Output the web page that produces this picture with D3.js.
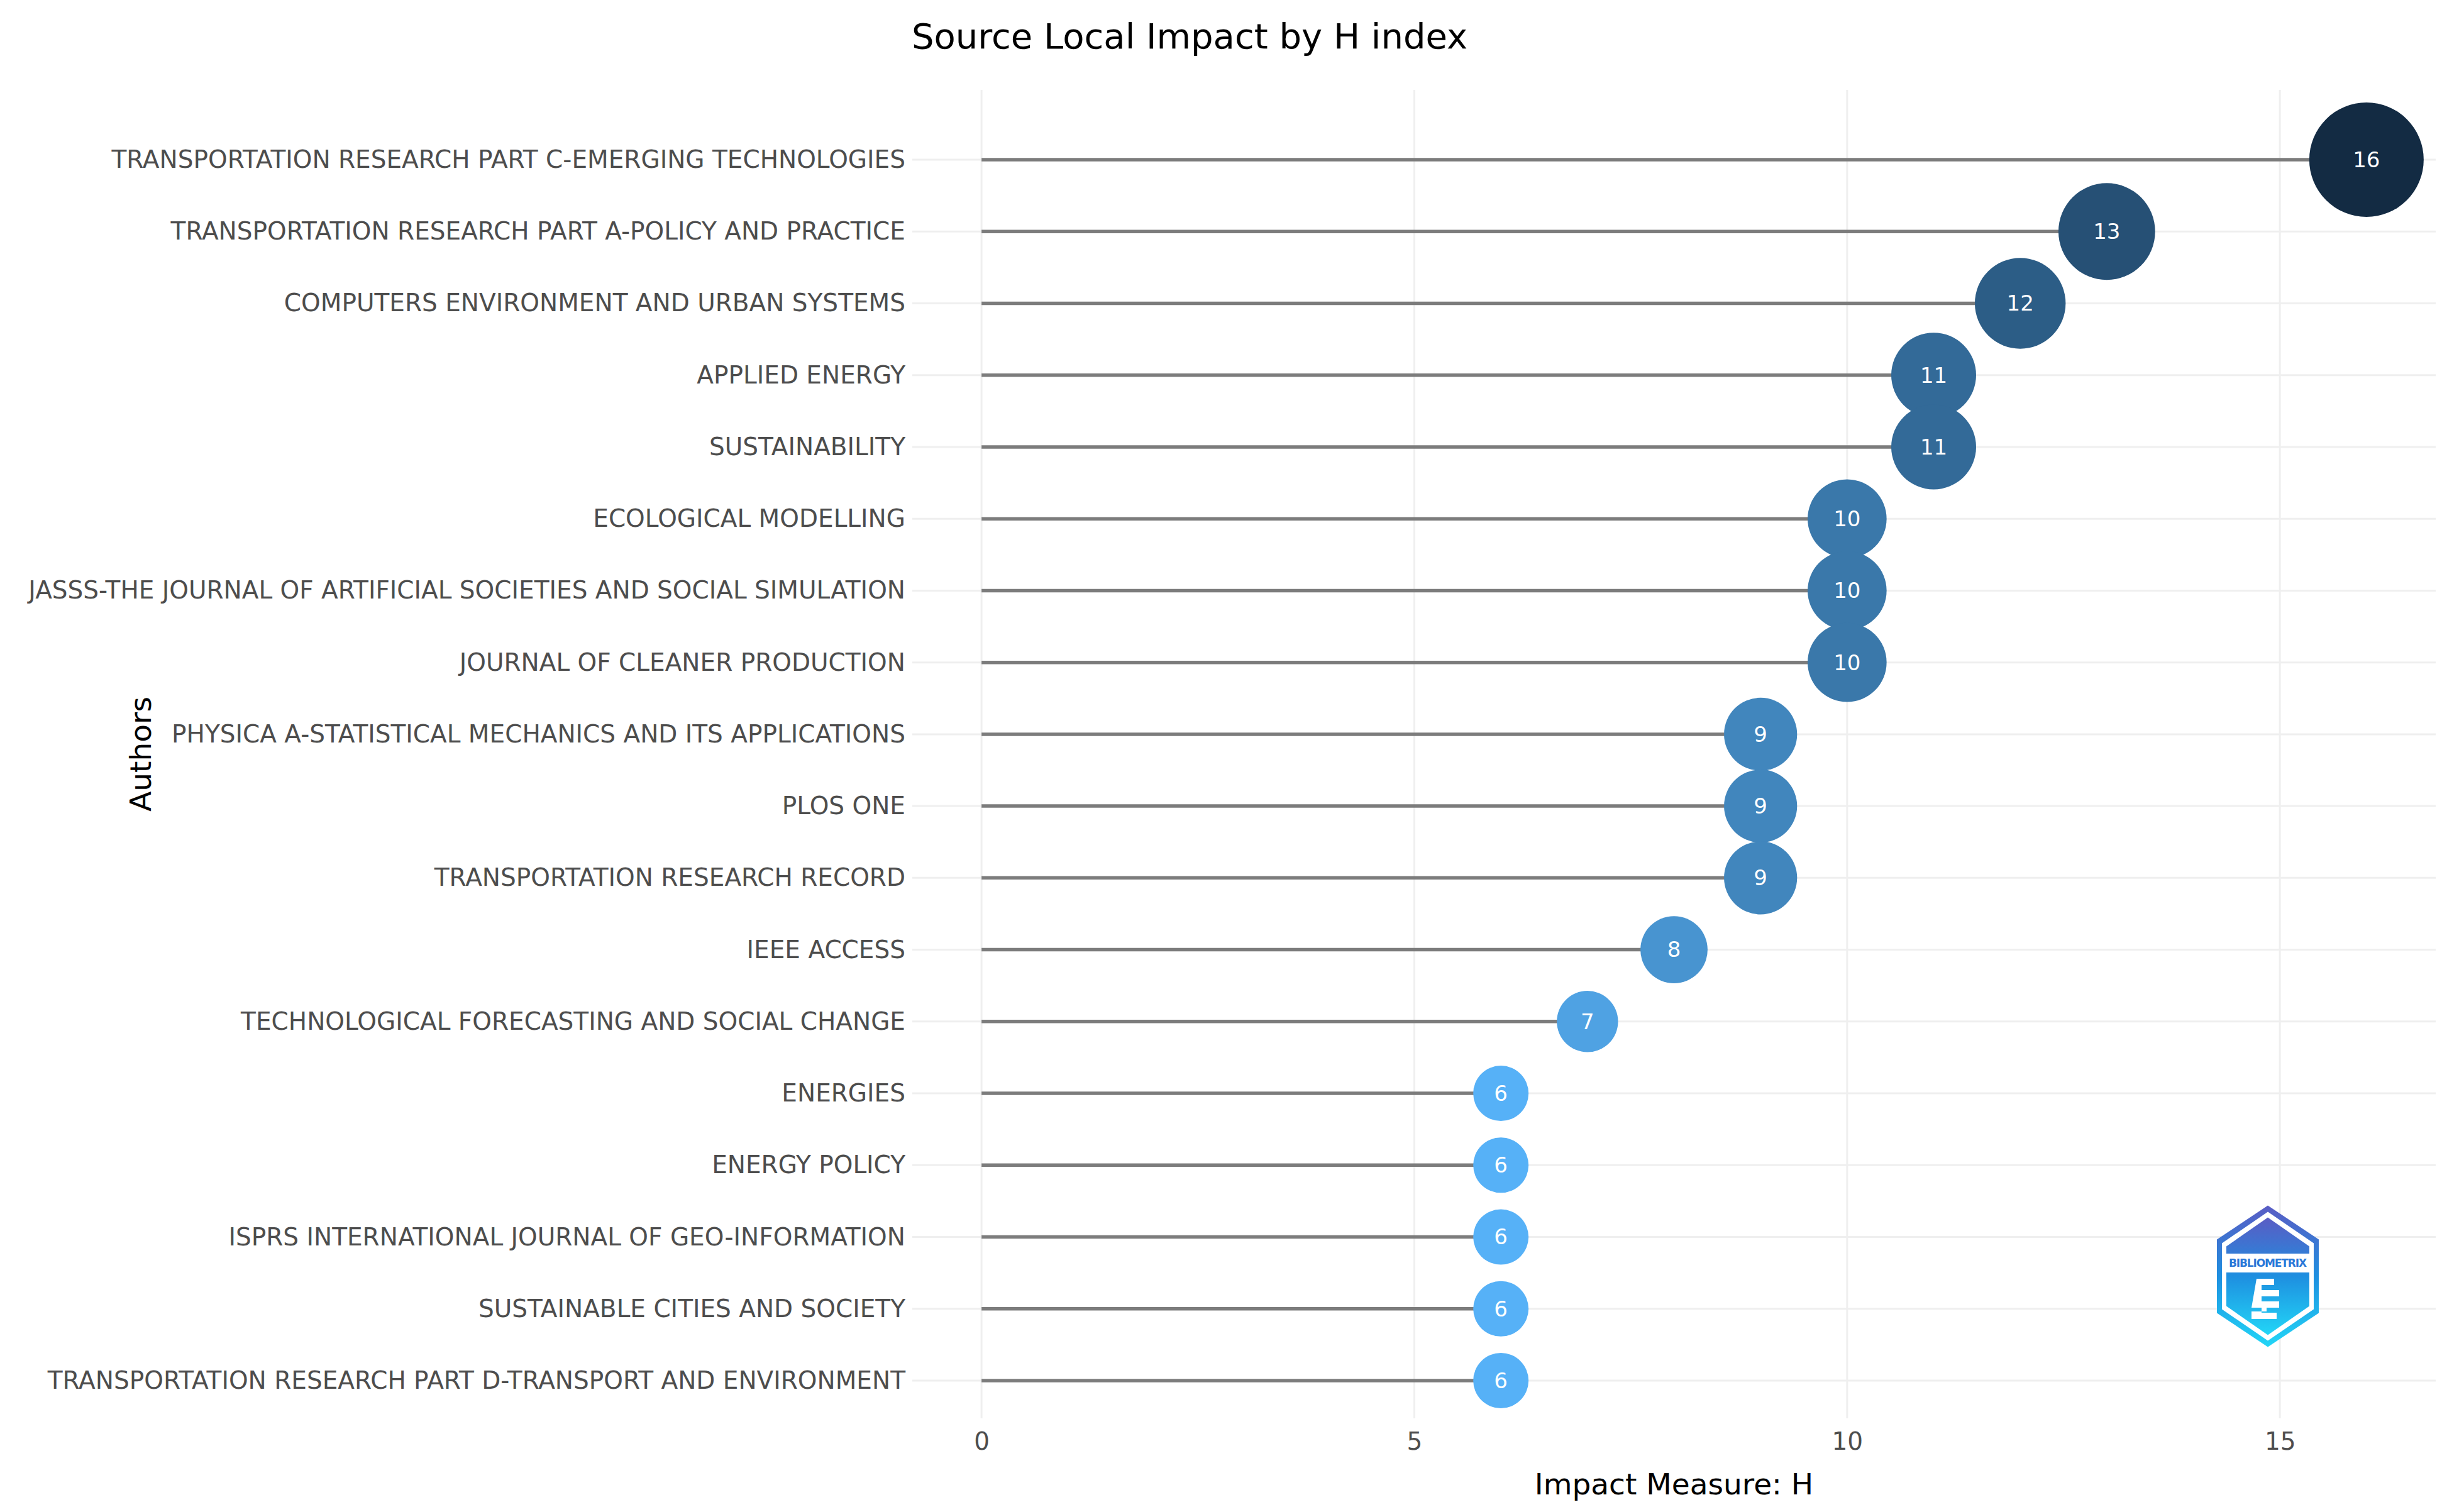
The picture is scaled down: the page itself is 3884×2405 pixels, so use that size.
<!DOCTYPE html>
<html>
<head>
<meta charset="utf-8">
<script src="https://cdn.jsdelivr.net/npm/d3@7"></script>
<style>
  body { margin: 0; background: #fff; }
  svg { display: block; font-family: "DejaVu Sans", Verdana, sans-serif; }
</style>
</head>
<body>
<svg width="3884" height="2405"></svg>
<script>
// sources, top to bottom, with their local H index
const sources = [
    "TRANSPORTATION RESEARCH PART C-EMERGING TECHNOLOGIES",
    "TRANSPORTATION RESEARCH PART A-POLICY AND PRACTICE",
    "COMPUTERS ENVIRONMENT AND URBAN SYSTEMS",
    "APPLIED ENERGY",
    "SUSTAINABILITY",
    "ECOLOGICAL MODELLING",
    "JASSS-THE JOURNAL OF ARTIFICIAL SOCIETIES AND SOCIAL SIMULATION",
    "JOURNAL OF CLEANER PRODUCTION",
    "PHYSICA A-STATISTICAL MECHANICS AND ITS APPLICATIONS",
    "PLOS ONE",
    "TRANSPORTATION RESEARCH RECORD",
    "IEEE ACCESS",
    "TECHNOLOGICAL FORECASTING AND SOCIAL CHANGE",
    "ENERGIES",
    "ENERGY POLICY",
    "ISPRS INTERNATIONAL JOURNAL OF GEO-INFORMATION",
    "SUSTAINABLE CITIES AND SOCIETY",
    "TRANSPORTATION RESEARCH PART D-TRANSPORT AND ENVIRONMENT"
];
const hIndex = [16, 13, 12, 11, 11, 10, 10, 10, 9, 9, 9, 8, 7, 6, 6, 6, 6, 6];
const xTicks = [0, 5, 10, 15];

const data = sources.map((s, i) => ({ source: s, h: hIndex[i] }));

const svg = d3.select("svg"),
    width = +svg.attr("width"),
    height = +svg.attr("height");

const plot = { left: 1451, right: 3874, top: 143, bottom: 2256 };

const x = d3.scaleLinear()
    .domain([-0.8, 16.8])
    .range([plot.left, plot.right]);

const y = d3.scalePoint()
    .domain(sources)
    .range([254, 2196]);

const hMin = d3.min(hIndex), hMax = d3.max(hIndex);

const color = d3.scaleLinear()
    .domain([hMin, hMax])
    .range(["#56B1F7", "#132B43"])
    .interpolate(d3.interpolateLab);

const radius = d3.scaleLinear()
    .domain([hMin, hMax])
    .range([44, 91]);

// grid
const grid = svg.append("g").attr("class", "grid")
    .attr("stroke", "#efefef")
    .attr("stroke-width", 3);

grid.selectAll("line.v")
    .data(xTicks)
    .enter().append("line")
    .attr("class", "v")
    .attr("x1", d => x(d)).attr("x2", d => x(d))
    .attr("y1", plot.top).attr("y2", plot.bottom);

grid.selectAll("line.h")
    .data(sources)
    .enter().append("line")
    .attr("class", "h")
    .attr("x1", plot.left).attr("x2", plot.right)
    .attr("y1", d => y(d)).attr("y2", d => y(d));

// axes
const xAxis = svg.append("g")
    .attr("transform", `translate(0,${plot.bottom})`)
    .call(d3.axisBottom(x).tickValues(xTicks).tickSize(0).tickPadding(22));

const yAxis = svg.append("g")
    .attr("transform", `translate(${plot.left},0)`)
    .call(d3.axisLeft(y).tickSize(0).tickPadding(11));

[xAxis, yAxis].forEach(a => {
    a.select(".domain").remove();
    a.selectAll("text")
        .attr("fill", "#4d4d4d")
        .style("font-family", "DejaVu Sans, sans-serif")
        .style("font-size", "39px");
});

// lollipop sticks
svg.append("g")
    .selectAll("line")
    .data(data)
    .enter().append("line")
    .attr("x1", x(0))
    .attr("x2", d => x(d.h))
    .attr("y1", d => y(d.source))
    .attr("y2", d => y(d.source))
    .attr("stroke", "#7c7c7c")
    .attr("stroke-width", 5.5);

// bubbles
const dot = svg.append("g")
    .selectAll("g")
    .data(data)
    .enter().append("g")
    .attr("transform", d => `translate(${x(d.h)},${y(d.source)})`);

dot.append("circle")
    .attr("r", d => radius(d.h))
    .attr("fill", d => color(d.h));

dot.append("text")
    .attr("text-anchor", "middle")
    .attr("dy", "0.35em")
    .attr("fill", "#fff")
    .style("font-size", "34px")
    .text(d => d.h);

// titles
svg.append("text")
    .attr("x", 1892)
    .attr("y", 57)
    .attr("dy", "0.35em")
    .attr("text-anchor", "middle")
    .style("font-size", "56px")
    .attr("fill", "#000")
    .text("Source Local Impact by H index");

svg.append("text")
    .attr("x", (plot.left + plot.right) / 2)
    .attr("y", 2361)
    .attr("dy", "0.35em")
    .attr("text-anchor", "middle")
    .style("font-size", "47px")
    .attr("fill", "#000")
    .text("Impact Measure: H");

svg.append("text")
    .attr("transform", `translate(224,${(plot.top + plot.bottom) / 2}) rotate(-90)`)
    .attr("dy", "0.35em")
    .attr("text-anchor", "middle")
    .style("font-size", "47px")
    .attr("fill", "#000")
    .text("Authors");

// bibliometrix badge
const defs = svg.append("defs");
const grad = defs.append("linearGradient")
    .attr("id", "logoGrad")
    .attr("x1", 0).attr("y1", 0).attr("x2", 0).attr("y2", 1);
grad.append("stop").attr("offset", "0%").attr("stop-color", "#5a5cc4");
grad.append("stop").attr("offset", "50%").attr("stop-color", "#1e8fe0");
grad.append("stop").attr("offset", "100%").attr("stop-color", "#22d6f7");

function hexPath(cx, cy, w, h, side) {
    // pointy-top hexagon, side = length of vertical edge
    const hw = w / 2, t = (h - side) / 2;
    return `M${cx},${cy - h / 2} L${cx + hw},${cy - h / 2 + t} L${cx + hw},${cy + h / 2 - t}` +
        ` L${cx},${cy + h / 2} L${cx - hw},${cy + h / 2 - t} L${cx - hw},${cy - h / 2 + t} Z`;
}

const logo = svg.append("g");
const lcx = 3607, lcy = 2030;
logo.append("path").attr("d", hexPath(lcx, lcy, 162, 225, 117)).attr("fill", "url(#logoGrad)");
logo.append("path").attr("d", hexPath(lcx, lcy, 146, 205, 105)).attr("fill", "#fff");
logo.append("path").attr("d", hexPath(lcx, lcy, 132, 187, 95)).attr("fill", "url(#logoGrad)");
logo.append("rect")
    .attr("x", lcx - 66).attr("y", lcy - 36)
    .attr("width", 132).attr("height", 30)
    .attr("fill", "#fff");
logo.append("text")
    .attr("x", lcx).attr("y", lcy - 21)
    .attr("dy", "0.35em")
    .attr("text-anchor", "middle")
    .attr("fill", "#2a78d8")
    .style("font-size", "17px")
    .style("font-weight", "bold")
    .attr("textLength", 124)
    .text("BIBLIOMETRIX");
logo.append("path")
    .attr("d", `M${lcx - 18},${lcy + 4} h28 v10 h-20 v8 h28 v10 h-28 v8 h28 v10 h-28 v8 h24 v10 h-40 v-12 h24 v-6 h-24 z`)
    .attr("fill", "#fff");
</script>
</body>
</html>
